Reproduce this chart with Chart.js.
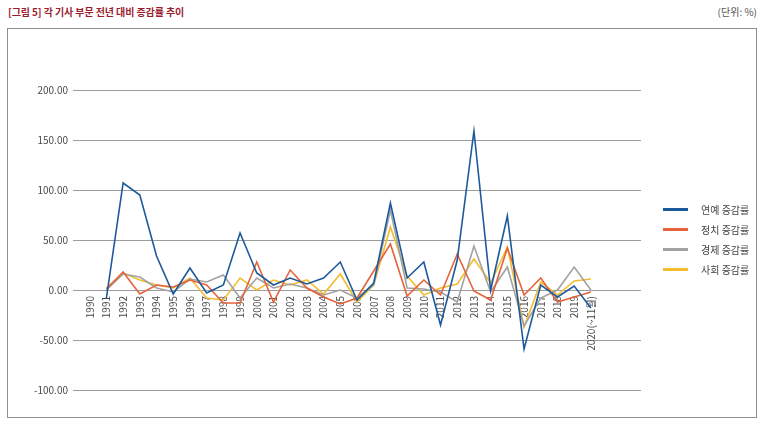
<!DOCTYPE html>
<html>
<head>
<meta charset="utf-8">
<script src="https://cdn.jsdelivr.net/npm/chart.js"></script>
<style>
  body { margin: 0; background: #fff; font-family: "Noto Sans CJK KR", sans-serif; }
  #wrap { position: relative; width: 770px; height: 425px; }
  #title { position: absolute; left: 8px; top: 4px; font-size: 10px; font-weight: bold; color: #9b1c2f; letter-spacing: -0.1px; }
  #unit { position: absolute; right: 13px; top: 4px; font-size: 10px; color: #555; }
  #frame { position: absolute; left: 7px; top: 28px; width: 748px; height: 388px; border: 1.5px solid #8f8f8f; }
  #chartBox { position: absolute; left: 0; top: 0; width: 770px; height: 425px; }
  #legend { position: absolute; left: 663px; top: 199px; }
  .item { height: 20px; display: flex; align-items: center; font-size: 10px; color: #444; }
  .sw { width: 25px; height: 3px; margin-right: 13px; }
</style>
</head>
<body>
<div id="wrap">
  <div id="frame"></div>
  <div id="title">[그림 5] 각 기사 부문 전년 대비 증감률 추이</div>
  <div id="unit">(단위: %)</div>
  <div id="chartBox"><canvas id="myChart"></canvas></div>
  <div id="legend"></div>
</div>
<script>
// years on the x axis (last one is Jan-Nov only)
var years = ["1990", "1991", "1992", "1993", "1994", "1995", "1996", "1997", "1998", "1999",
  "2000", "2001", "2002", "2003", "2004", "2005", "2006", "2007", "2008", "2009",
  "2010", "2011", "2012", "2013", "2014", "2015", "2016", "2017", "2018", "2019", "2020(~11월)"];

// year-over-year change, % (1990 has no previous year)
var entRate = [null, -8, 107, 95, 34, -4, 22, -3, 5, 57, 17, 5, 12, 6, 12, 28, -10, 7, 87, 12, 28, -35, 30, 159, 0, 74, -59, 5, -7, 4, -18];
var polRate = [null, 1, 18, -4, 5, 3, 10, 5, -13, -13, 28, -12, 20, 2, -7, -14, -8, 19, 46, -6, 10, -5, 36, -1, -10, 42, -5, 12, -12, -7, -2];
var ecoRate = [null, 0, 16, 13, 2, -2, 11, 8, 15, -8, 12, 2, 6, 2, -5, 0, -8, 5, 80, 2, 1, -2, -12, 44, -2, 23, -36, -8, 0, 23, 0];
var socRate = [null, 2, 17, 10, 5, 2, 12, -8, -10, 12, 0, 10, 5, 10, -4, 16, -12, 5, 63, 14, -5, 2, 6, 31, 7, 43, -37, 8, -5, 9, 11];

var seriesNames = ["연예 증감률", "정치 증감률", "경제 증감률", "사회 증감률"];
var seriesColors = ["#1d5a9c", "#e5633a", "#a2a2a2", "#f3bd30"];
var yMin = -100;
var yMax = 200;
var yStep = 50;

function toPoints(arr) {
  return arr.map(function (v, i) { return { x: i, y: v }; });
}

var allRates = [entRate, polRate, ecoRate, socRate];
var datasets = [];
for (var i = 0; i < allRates.length; i++) {
  datasets.push({
    label: seriesNames[i],
    data: toPoints(allRates[i]),
    borderColor: seriesColors[i],
    backgroundColor: seriesColors[i],
    borderWidth: 1.6,
    pointRadius: 0,
    tension: 0,
    fill: false,
  });
}

let ctx = document.getElementById("myChart");

let myChart = new Chart(ctx, {
  type: "line",
  data: { datasets: datasets },
  options: {
    responsive: true,
    maintainAspectRatio: false,
    animation: false,
    layout: { padding: { left: 0, right: 129, top: 90, bottom: 35 } },
    plugins: {
      legend: { display: false },
      tooltip: { enabled: false },
    },
    scales: {
      x: {
        type: "linear",
        position: { y: 0 },
        min: -1,
        max: 33,
        grid: { display: false, drawTicks: false },
        border: { display: false },
        ticks: {
          stepSize: 1,
          autoSkip: false,
          minRotation: 90,
          maxRotation: 90,
          padding: 6,
          color: "#4a4a4a",
          font: { family: "Noto Sans CJK KR", size: 10 },
          callback: function (value) {
            return years[value] !== undefined ? years[value] : null;
          },
        },
      },
      y: {
        min: yMin,
        max: yMax,
        afterFit: function (scale) { scale.width = 73; },
        grid: { color: "#9c9c9c", lineWidth: 1, drawTicks: false },
        border: { display: false },
        ticks: {
          stepSize: yStep,
          padding: 5,
          color: "#4a4a4a",
          font: { family: "Noto Sans CJK KR", size: 10 },
          callback: function (value) { return value.toFixed(2); },
        },
      },
    },
  },
});

// legend as plain text next to the plot
var legendBox = document.getElementById("legend");
for (var j = 0; j < seriesNames.length; j++) {
  var row = document.createElement("div");
  row.className = "item";
  row.innerHTML = '<span class="sw" style="background:' + seriesColors[j] + '"></span>' + seriesNames[j];
  legendBox.appendChild(row);
}
</script>
</body>
</html>
